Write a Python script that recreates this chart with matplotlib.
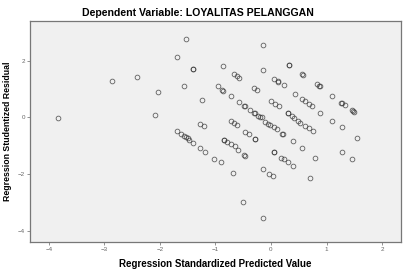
import matplotlib
matplotlib.use("Agg")
import matplotlib.pyplot as plt

# standardized predicted values (x) and studentized residuals (y)
pred = [
    -3.84, -2.86, -2.41, -2.04, -2.08, -1.53, -1.69, -1.41, -1.41, -1.56,
    -1.24, -0.86, -0.15, -0.15, 0.33, 0.33, 0.56, 0.58, 0.83, 0.88,
    0.87, 1.10, 1.26, 1.28, 1.34, 1.45, 1.47, 1.50, 0.89, 0.44,
    0.56, 0.62, 0.68, 0.74, 0.06, 0.12, 0.13, 0.23, -0.31, -0.26,
    -0.66, -0.61, -0.57, -0.95, -0.88, -0.87, -0.72, -0.58, -0.48, -0.47,
    -0.37, -0.30, -0.28, -0.23, -0.19, -0.16, 0.00, 0.08, 0.14, 0.30,
    0.31, 0.37, 0.42, 0.48, 0.53, 0.62, 0.68, 0.75, -0.10, -0.05,
    -0.01, 0.05, 0.10, 0.20, 0.21, 1.10, 1.27, 1.55, -1.27, -1.20,
    -0.72, -0.67, -0.61, -1.69, -1.62, -1.57, -1.53, -1.50, -1.47, -1.41,
    -1.27, -1.18, -1.03, -0.90, -0.69, -0.46, -0.39, -0.29, -0.28, -0.85,
    -0.84, -0.79, -0.72, -0.65, -0.59, -0.48, -0.47, -0.15, -0.03, 0.03,
    0.05, 0.06, 0.18, 0.23, 0.30, 0.40, 0.39, 0.56, 0.79, 0.71,
    -0.51, -0.14, 1.27, 1.46,
]
resid = [
    -0.02, 1.27, 1.41, 0.89, 0.08, 2.75, 2.12, 1.71, 1.71, 1.10,
    0.63, 1.81, 2.55, 1.67, 1.84, 1.84, 1.51, 1.49, 1.19, 1.10,
    1.11, 0.75, 0.52, 0.50, 0.44, 0.25, 0.23, 0.18, 0.17, 0.83,
    0.66, 0.58, 0.49, 0.41, 1.35, 1.27, 1.26, 1.13, 1.03, 0.95,
    1.51, 1.45, 1.37, 1.10, 0.95, 0.94, 0.74, 0.54, 0.41, 0.40,
    0.26, 0.17, 0.14, 0.06, 0.01, 0.00, 0.58, 0.48, 0.40, 0.17,
    0.16, 0.04, -0.03, -0.12, -0.19, -0.29, -0.38, -0.48, -0.15, -0.22,
    -0.28, -0.35, -0.40, -0.58, -0.57, -0.12, -0.35, -0.73, -0.22, -0.31,
    -0.13, -0.21, -0.27, -0.47, -0.58, -0.64, -0.70, -0.73, -0.79, -0.89,
    -1.06, -1.20, -1.45, -1.57, -1.96, -0.50, -0.58, -0.75, -0.77, -0.78,
    -0.79, -0.87, -0.95, -1.02, -1.13, -1.33, -1.34, -1.80, -1.97, -2.05,
    -1.21, -1.22, -1.41, -1.45, -1.57, -1.71, -0.83, -1.06, -1.43, -2.13,
    -2.97, -3.52, -1.22, -1.46,
]

x_ticks = [-4, -3, -2, -1, 0, 1, 2]
y_ticks = [-4, -2, 0, 2]

plt.rcParams['font.family'] = ['Liberation Sans', 'DejaVu Sans']

fig = plt.figure(figsize=(4.05, 2.69), dpi=100)
ax = fig.add_axes([0.074, 0.100, 0.916, 0.823])
ax.set_facecolor('#f0f0f0')

ax.plot(pred, resid, linestyle='none', marker='o', markersize=3.4,
        markerfacecolor='none', markeredgecolor='#303030',
        markeredgewidth=0.6, alpha=0.75)

ax.set_xlim(-4.34, 2.34)
ax.set_ylim(-4.38, 3.40)
ax.set_xticks(x_ticks)
ax.set_yticks(y_ticks)
ax.tick_params(direction='out', length=2, width=0.5, colors='#666666',
               labelsize=4.5, pad=1.5)

for s in ax.spines.values():
    s.set_color('#777777')
    s.set_linewidth(0.9)

ax.set_xlabel('Regression Standardized Predicted Value', fontsize=7,
              fontweight='bold', va='center')
ax.set_ylabel('Regression Studentized Residual', fontsize=6.3,
              fontweight='bold', va='center')
ax.xaxis.set_label_coords(0.5, -0.099)
ax.yaxis.set_label_coords(-0.060, 0.5)

fig.text(0.489, 0.950, 'Dependent Variable: LOYALITAS PELANGGAN',
         ha='center', va='center', fontsize=7.6, fontweight='bold')

fig.savefig('out.png', dpi=100)
